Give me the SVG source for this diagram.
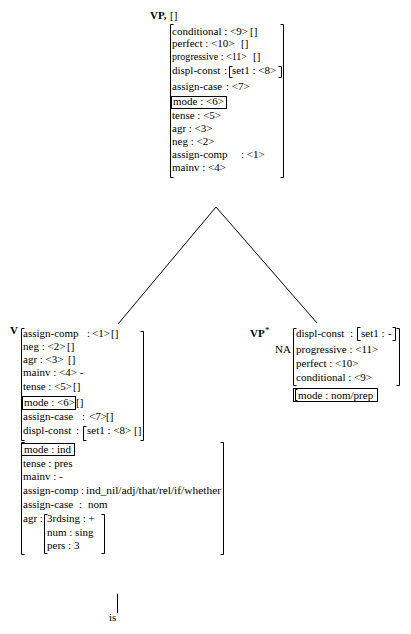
<svg xmlns="http://www.w3.org/2000/svg" width="411" height="634" viewBox="0 0 411 634">
<style>
text{font-family:"Liberation Serif","Times New Roman",serif;font-size:11px;fill:#000}
.b{font-weight:bold}
.sm{font-size:9px}
.br{fill:none;stroke:#000;stroke-width:1}
.box{fill:none;stroke:#000;stroke-width:1}
.edge{fill:none;stroke:#000;stroke-width:1}
</style>
<rect width="411" height="634" fill="#fff"/>
<g id="connectors">
<polyline class="edge" points="118,324 216,207 317,323"/>
<line class="edge" x1="117.5" y1="594" x2="117.5" y2="613"/>
</g>
<g id="node-vp-root">
<text class="b" x="150" y="19">VP,</text>
<text x="170" y="19">[]</text>
<path class="br" d="M173.5 24.5H170.5V177.5H173.5"/>
<path class="br" d="M280.5 24.5H283.5V177.5H280.5"/>
<text x="172" y="35">conditional : &lt;9&gt;</text><text x="250" y="35">[]</text>
<text x="172" y="47">perfect : &lt;10&gt;</text><text x="241" y="47">[]</text>
<text x="172" y="60" textLength="75" lengthAdjust="spacingAndGlyphs">progressive : &lt;11&gt;</text><text x="253" y="60">[]</text>
<text x="172" y="74">displ-const</text><text x="224" y="74">:</text>
<path class="br" d="M232.5 66.5H229.5V77.5H232.5"/>
<text x="232" y="74">set1 : &lt;8&gt;</text>
<path class="br" d="M278.5 66.5H281.5V77.5H278.5"/>
<text x="172" y="90">assign-case</text><text x="226" y="90">: &lt;7&gt;</text>
<rect class="box" x="171.5" y="96.5" width="55" height="12"/>
<text x="173" y="105">mode : &lt;6&gt;</text>
<text x="172" y="119">tense : &lt;5&gt;</text>
<text x="172" y="132">agr : &lt;3&gt;</text>
<text x="172" y="145">neg : &lt;2&gt;</text>
<text x="172" y="158">assign-comp</text><text x="241" y="158">: &lt;1&gt;</text>
<text x="172" y="171">mainv : &lt;4&gt;</text>
</g>
<g id="node-v">
<text class="b" x="10" y="334">V</text>
<path class="br" d="M24.5 328.5H21.5V440.5H24.5"/>
<path class="br" d="M140.5 331.5H143.5V440.5H140.5"/>
<text x="23" y="337">assign-comp</text><text x="87" y="337">:</text><text x="92" y="337">&lt;1&gt;</text><text x="111" y="337">[]</text>
<text x="23" y="350">neg : &lt;2&gt;</text><text x="67" y="350">[]</text>
<text x="23" y="363">agr : &lt;3&gt;</text><text x="68" y="363">[]</text>
<text x="23" y="376">mainv : &lt;4&gt; -</text>
<text x="23" y="390">tense : &lt;5&gt;</text><text x="73" y="390">[]</text>
<rect class="box" x="22.5" y="396.5" width="53" height="13"/>
<text x="24" y="406">mode : &lt;6&gt;</text><text x="76" y="406">[]</text>
<text x="23" y="420">assign-case</text><text x="82" y="420">:</text><text x="89" y="420">&lt;7&gt;</text><text x="106" y="420">[]</text>
<text x="23" y="434">displ-const</text><text x="76" y="434">:</text>
<path class="br" d="M86.5 426.5H83.5V440.5H86.5"/>
<text x="87" y="434">set1 : &lt;8&gt;</text><text x="134" y="434">[]</text>
<path class="br" d="M24.5 442.5H21.5V554.5H24.5"/>
<path class="br" d="M220.5 442.5H223.5V554.5H220.5"/>
<rect class="box" x="21.5" y="443.5" width="53" height="12"/>
<text x="24" y="453">mode : ind</text>
<text x="23" y="467">tense : pres</text>
<text x="23" y="480">mainv : -</text>
<text x="23" y="494">assign-comp</text><text x="81" y="494">:</text>
<text x="86" y="494" textLength="135" lengthAdjust="spacingAndGlyphs">ind_nil/adj/that/rel/if/whether</text>
<text x="23" y="508">assign-case</text><text x="79" y="508">:</text><text x="88" y="508">nom</text>
<text x="23" y="522">agr :</text>
<path class="br" d="M47.5 514.5H44.5V553.5H47.5"/>
<path class="br" d="M101.5 514.5H104.5V553.5H101.5"/>
<text x="47" y="522">3rdsing : +</text>
<text x="47" y="536">num : sing</text>
<text x="47" y="549">pers : 3</text>
</g>
<g id="node-vp-foot">
<text class="b" x="250" y="337">VP</text>
<text class="sm" x="265" y="333">*</text>
<text x="275" y="353">NA</text>
<path class="br" d="M296.5 328.5H293.5V385.5H296.5"/>
<path class="br" d="M396.5 328.5H399.5V385.5H396.5"/>
<text x="296" y="337">displ-const</text><text x="350" y="337">:</text>
<path class="br" d="M360.5 327.5H357.5V340.5H360.5"/>
<text x="361" y="337">set1 :</text><text x="388" y="337">-</text>
<path class="br" d="M392.5 327.5H395.5V340.5H392.5"/>
<text x="296" y="353">progressive : &lt;11&gt;</text>
<text x="296" y="367">perfect : &lt;10&gt;</text>
<text x="296" y="381">conditional : &lt;9&gt;</text>
<rect class="box" x="293.5" y="388.5" width="84" height="13"/>
<path class="br" d="M297.5 389.5H295.5V400.5H297.5"/>
<text x="298" y="399">mode :  nom/prep</text>
</g>
<g id="node-is">
<text x="109" y="621">is</text>
</g>
</svg>
